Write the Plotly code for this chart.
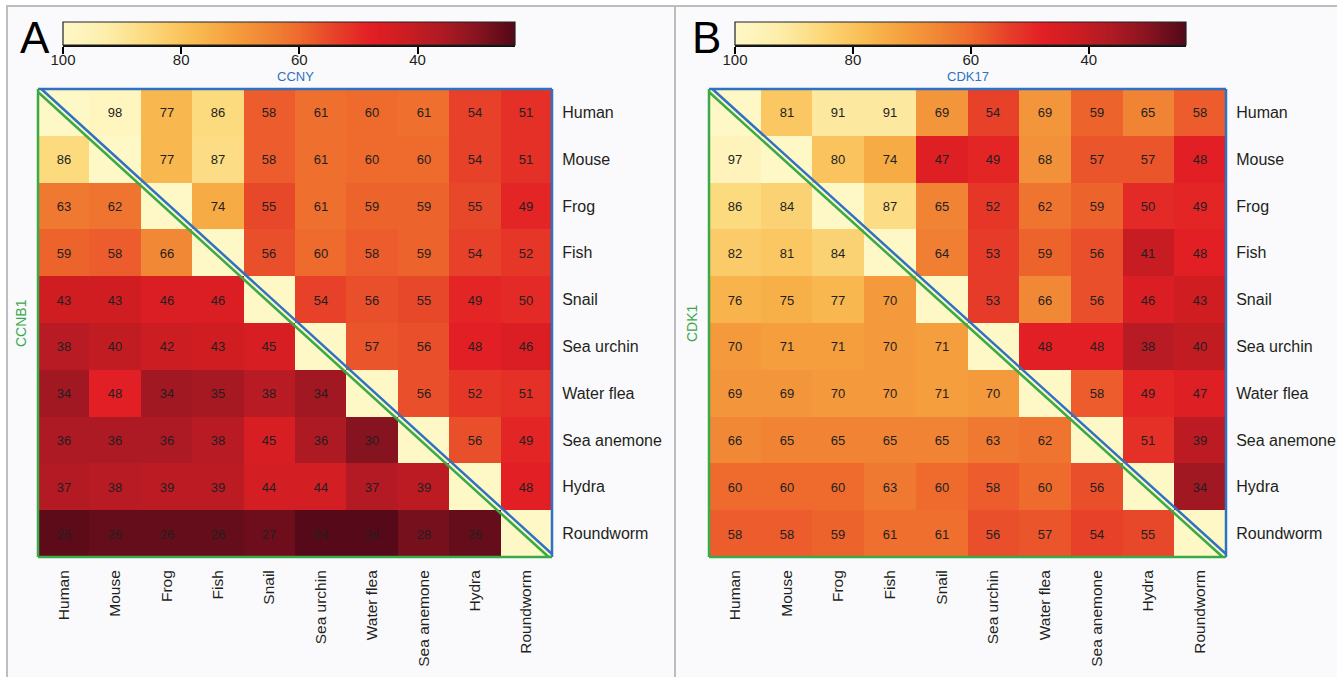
import plotly.graph_objects as go

species = ["Human", "Mouse", "Frog", "Fish", "Snail", "Sea urchin",
           "Water flea", "Sea anemone", "Hydra", "Roundworm"]

# Panel A: upper triangle = CCNY identity, lower triangle = CCNB1 identity (diagonal None)
ccn_values = [
    [None, 98, 77, 86, 58, 61, 60, 61, 54, 51],
    [86, None, 77, 87, 58, 61, 60, 60, 54, 51],
    [63, 62, None, 74, 55, 61, 59, 59, 55, 49],
    [59, 58, 66, None, 56, 60, 58, 59, 54, 52],
    [43, 43, 46, 46, None, 54, 56, 55, 49, 50],
    [38, 40, 42, 43, 45, None, 57, 56, 48, 46],
    [34, 48, 34, 35, 38, 34, None, 56, 52, 51],
    [36, 36, 36, 38, 45, 36, 30, None, 56, 49],
    [37, 38, 39, 39, 44, 44, 37, 39, None, 48],
    [25, 26, 26, 26, 27, 24, 24, 28, 26, None],
]

# Panel B: upper triangle = CDK17 identity, lower triangle = CDK1 identity
cdk_values = [
    [None, 81, 91, 91, 69, 54, 69, 59, 65, 58],
    [97, None, 80, 74, 47, 49, 68, 57, 57, 48],
    [86, 84, None, 87, 65, 52, 62, 59, 50, 49],
    [82, 81, 84, None, 64, 53, 59, 56, 41, 48],
    [76, 75, 77, 70, None, 53, 66, 56, 46, 43],
    [70, 71, 71, 70, 71, None, 48, 48, 38, 40],
    [69, 69, 70, 70, 71, 70, None, 58, 49, 47],
    [66, 65, 65, 65, 65, 63, 62, None, 51, 39],
    [60, 60, 60, 63, 60, 58, 60, 56, None, 34],
    [58, 58, 59, 61, 61, 56, 57, 54, 55, None],
]

diag_value = 100
zmin, zmax = 24, 100
colorbar_ticks = [100, 80, 60, 40]
colorbar_levels = list(range(100, 23, -1))

panel_letters = ["A", "B"]
upper_titles = ["CCNY", "CDK17"]
lower_titles = ["CCNB1", "CDK1"]

FONT = "Liberation Sans, Arial, sans-serif"
BLUE = "#2F72C4"
GREEN = "#3AA948"

colorscale = [
    [0.000, "#560918"],
    [0.079, "#861420"],
    [0.158, "#AE1A23"],
    [0.237, "#CB1D22"],
    [0.316, "#E21F24"],
    [0.395, "#E7412A"],
    [0.474, "#EE6A2D"],
    [0.553, "#F18836"],
    [0.632, "#F5A23F"],
    [0.711, "#F9BC52"],
    [0.816, "#FCDA7E"],
    [0.908, "#FDEEAD"],
    [1.000, "#FEF8C6"],
]

W, H = 1337, 677


def px_x(p):
    return p / W


def px_y(p):
    return 1 - p / H


heat_x = [(38, 552), (709, 1226)]
heat_y = (89, 557)
cbar_x = [(63, 515), (735, 1186)]
cbar_y = (22, 45)

fig = go.Figure()
shapes = []
annotations = []

# background frame
shapes.append(dict(type="rect", xref="paper", yref="paper", x0=px_x(7), x1=1.01,
                   y0=-0.01, y1=px_y(6), fillcolor="#FAFAFC",
                   line=dict(color="#BDBDBD", width=2), layer="below"))
shapes.append(dict(type="line", xref="paper", yref="paper", x0=px_x(675), x1=px_x(675),
                   y0=-0.01, y1=px_y(6), line=dict(color="#BDBDBD", width=2), layer="below"))

layout_axes = {}
for i, vals in enumerate([ccn_values, cdk_values]):
    z = [[diag_value if v is None else v for v in row] for row in vals]
    txt = [["" if v is None else str(v) for v in row] for row in vals]
    xa = "x" if i == 0 else "x2"
    ya = "y" if i == 0 else "y2"
    fig.add_trace(go.Heatmap(
        z=z, x=species, y=species, text=txt, texttemplate="%{text}",
        textfont=dict(family=FONT, size=13, color="#231F20"),
        colorscale=colorscale, zmin=zmin, zmax=zmax, showscale=False,
        xaxis=xa, yaxis=ya, hoverinfo="skip",
    ))
    axn = "" if i == 0 else "2"
    layout_axes["xaxis" + axn] = dict(
        domain=[px_x(heat_x[i][0]), px_x(heat_x[i][1])], anchor=ya,
        tickangle=-90, showgrid=False, zeroline=False,
        ticks="outside", ticklen=6, tickcolor="rgba(0,0,0,0)", automargin=False,
        tickfont=dict(family=FONT, size=15.5, color="#231F20"), showline=False,
    )
    layout_axes["yaxis" + axn] = dict(
        domain=[px_y(heat_y[1]), px_y(heat_y[0])], anchor=xa,
        autorange="reversed", side="right", showgrid=False, zeroline=False,
        ticks="outside", ticklen=6, tickcolor="rgba(0,0,0,0)", automargin=False,
        tickfont=dict(family=FONT, size=16, color="#231F20"), showline=False,
    )

    # colorbar as gradient strip
    cxa = "x" + str(i + 3)
    cya = "y" + str(i + 3)
    fig.add_trace(go.Heatmap(
        z=[colorbar_levels], x=colorbar_levels, y=[0], zsmooth="best",
        colorscale=colorscale, zmin=zmin, zmax=zmax, showscale=False,
        xaxis=cxa, yaxis=cya, hoverinfo="skip",
    ))
    layout_axes["xaxis" + str(i + 3)] = dict(
        domain=[px_x(cbar_x[i][0]), px_x(cbar_x[i][1])], anchor=cya,
        range=[100, 23.5], tickvals=colorbar_ticks, ticks="outside", ticklen=7,
        tickwidth=1.5, tickcolor="#000", showgrid=False, zeroline=False,
        ticklabelstandoff=-7, automargin=False,
        tickfont=dict(family=FONT, size=15, color="#231F20"),
        showline=True, linecolor="#111", linewidth=2,
    )
    layout_axes["yaxis" + str(i + 3)] = dict(
        domain=[px_y(cbar_y[1]), px_y(cbar_y[0])], anchor=cxa, automargin=False,
        range=[-0.5, 0.5], showticklabels=False, ticks="", showgrid=False, zeroline=False,
    )
    shapes.append(dict(type="rect", xref=cxa + " domain", yref=cya + " domain",
                       x0=0, x1=1, y0=0, y1=1, line=dict(color="#222", width=1.2)))

    # heatmap borders and diagonal
    xd, yd = xa + " domain", ya + " domain"
    d = 0.0065
    shapes += [
        dict(type="line", xref=xd, yref=yd, x0=0, x1=1, y0=1, y1=1, line=dict(color=BLUE, width=2.5)),
        dict(type="line", xref=xd, yref=yd, x0=1, x1=1, y0=0, y1=1, line=dict(color=BLUE, width=2.5)),
        dict(type="line", xref=xd, yref=yd, x0=0, x1=0, y0=0, y1=1, line=dict(color=GREEN, width=2.5)),
        dict(type="line", xref=xd, yref=yd, x0=0, x1=1, y0=0, y1=0, line=dict(color=GREEN, width=2.5)),
        dict(type="line", xref=xd, yref=yd, x0=d, x1=1, y0=1, y1=d, line=dict(color=BLUE, width=2.5)),
        dict(type="line", xref=xd, yref=yd, x0=0, x1=1 - d, y0=1 - d, y1=0, line=dict(color=GREEN, width=2.5)),
    ]

    annotations.append(dict(text=upper_titles[i], xref=xd, yref="paper", x=0.5, y=px_y(77),
                            showarrow=False, font=dict(family=FONT, size=13, color=BLUE),
                            xanchor="center", yanchor="middle"))
    annotations.append(dict(text=lower_titles[i], xref="paper", yref=yd,
                            x=px_x(heat_x[i][0] - 17), y=0.5, textangle=-90,
                            showarrow=False, font=dict(family=FONT, size=14, color=GREEN),
                            xanchor="center", yanchor="middle"))
    annotations.append(dict(text=panel_letters[i], xref="paper", yref="paper",
                            x=px_x(heat_x[i][0] - 3), y=px_y(37), showarrow=False,
                            font=dict(family=FONT, size=44, color="#000"),
                            xanchor="center", yanchor="middle"))

fig.update_layout(
    width=W, height=H, margin=dict(l=0, r=0, t=0, b=0, autoexpand=False),
    paper_bgcolor="#FFFFFF", plot_bgcolor="rgba(0,0,0,0)",
    shapes=shapes, annotations=annotations, showlegend=False,
    **layout_axes,
)

fig.write_html("out.html", config={"displayModeBar": False},
               post_script="document.body.style.margin='0';document.body.style.overflow='hidden';")
